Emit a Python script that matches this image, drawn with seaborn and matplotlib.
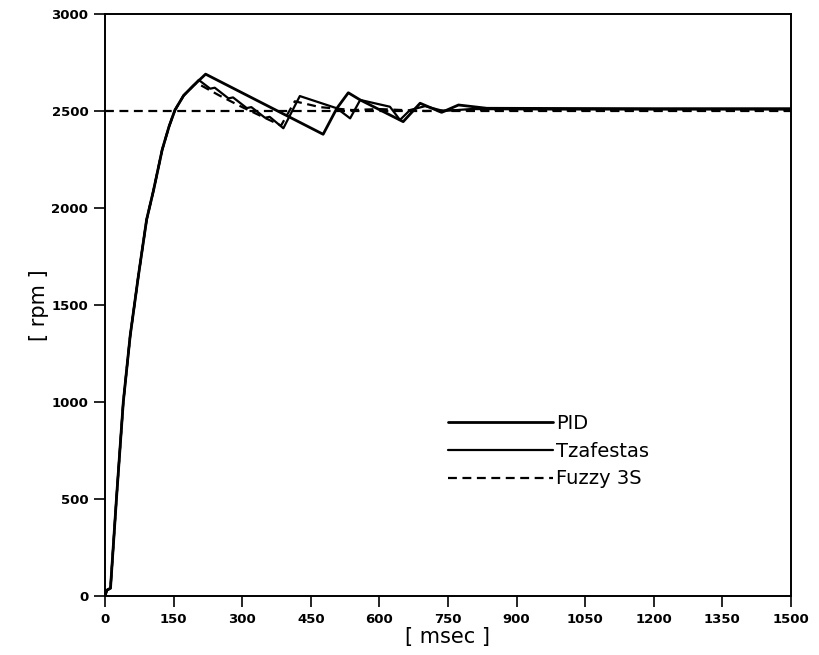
"""
Speed step response of the motor drive: PID vs Tzafestas vs Fuzzy 3S.

Output:
    out.png
"""

import matplotlib

matplotlib.use("Agg")
import matplotlib.pyplot as plt
import seaborn as sns

# --- data (t in msec, speed in rpm) ---
pid_t = [0, 4, 12, 25, 40, 55, 73, 91, 106, 125, 140, 153, 172, 193, 220,
         477, 507, 532, 558, 652, 689, 736, 773, 835, 1000, 1200, 1500]
pid_rpm = [0, 30, 40, 500, 1000, 1340, 1650, 1940, 2090, 2300, 2420, 2505, 2580, 2630, 2690,
           2380, 2514, 2594, 2557, 2445, 2540, 2493, 2531, 2514, 2513, 2512, 2512]

tzaf_t = [0, 4, 12, 25, 40, 55, 73, 91, 106, 125, 140, 153, 172, 193, 205,
          230, 240, 270, 280, 310, 320, 350, 360, 390,
          426, 507, 536, 558, 623, 645, 667, 700, 740, 800, 1000, 1500]
tzaf_rpm = [0, 30, 40, 500, 1000, 1340, 1650, 1940, 2090, 2300, 2420, 2505, 2580, 2630, 2660,
            2615, 2620, 2565, 2570, 2515, 2520, 2465, 2470, 2411,
            2577, 2514, 2462, 2557, 2522, 2454, 2505, 2525, 2500, 2510, 2508, 2508]

fuzzy_t = [0, 4, 12, 25, 40, 55, 73, 91, 106, 125, 140, 153, 172, 193, 200,
           250, 300, 385, 415, 470, 540, 600, 700, 800, 1000, 1500]
fuzzy_rpm = [0, 30, 40, 500, 1000, 1340, 1650, 1940, 2090, 2300, 2420, 2505, 2580, 2630, 2645,
             2580, 2520, 2425, 2550, 2520, 2505, 2510, 2500, 2505, 2503, 2503]

setpoint_t = [0, 1500]
setpoint_rpm = [2500, 2500]

x_ticks = [0, 150, 300, 450, 600, 750, 900, 1050, 1200, 1350, 1500]
y_ticks = [0, 500, 1000, 1500, 2000, 2500, 3000]


def main() -> None:
    sns.set_theme(style="ticks")
    plt.rcParams["font.family"] = ["DejaVu Sans"]
    plt.rcParams["text.color"] = "black"
    plt.rcParams["axes.labelcolor"] = "black"

    fig = plt.figure(figsize=(8.2, 6.55), dpi=100)
    ax = fig.add_axes([105 / 820, 1 - 596 / 655, 686 / 820, 582 / 655])

    sns.lineplot(x=setpoint_t, y=setpoint_rpm, ax=ax, color="black",
                 linewidth=1.6, linestyle=(0, (4, 2.5)), sort=False)
    sns.lineplot(x=fuzzy_t, y=fuzzy_rpm, ax=ax, color="black", linewidth=1.6,
                 linestyle=(0, (4, 2.5)), sort=False, label="Fuzzy 3S")
    sns.lineplot(x=tzaf_t, y=tzaf_rpm, ax=ax, color="black", linewidth=1.6,
                 sort=False, label="Tzafestas")
    sns.lineplot(x=pid_t, y=pid_rpm, ax=ax, color="black", linewidth=2.0,
                 sort=False, label="PID")

    ax.set_xlim(0, 1500)
    ax.set_ylim(0, 3000)
    ax.set_xticks(x_ticks)
    ax.set_yticks(y_ticks)
    ax.tick_params(direction="out", length=8, width=1.2, colors="black",
                   labelsize=9.5, pad=4)
    for lab in ax.get_xticklabels() + ax.get_yticklabels():
        lab.set_fontweight("bold")
    for spine in ax.spines.values():
        spine.set_visible(True)
        spine.set_linewidth(1.4)
        spine.set_color("black")

    ax.set_xlabel("[ msec ]", fontsize=15, labelpad=1)
    ax.set_ylabel("[ rpm ]", fontsize=15, labelpad=2)

    handles, labels = ax.get_legend_handles_labels()
    order = [labels.index(n) for n in ("PID", "Tzafestas", "Fuzzy 3S")]
    ax.legend([handles[i] for i in order], [labels[i] for i in order],
              loc="upper left", bbox_to_anchor=(448 / 820, 1 - 414 / 655),
              bbox_transform=fig.transFigure, frameon=False, fontsize=14,
              handlelength=5.4, handletextpad=0.15, labelspacing=0.45,
              borderpad=0, borderaxespad=0)

    fig.savefig("out.png", dpi=100)
    plt.close(fig)


if __name__ == "__main__":
    main()
